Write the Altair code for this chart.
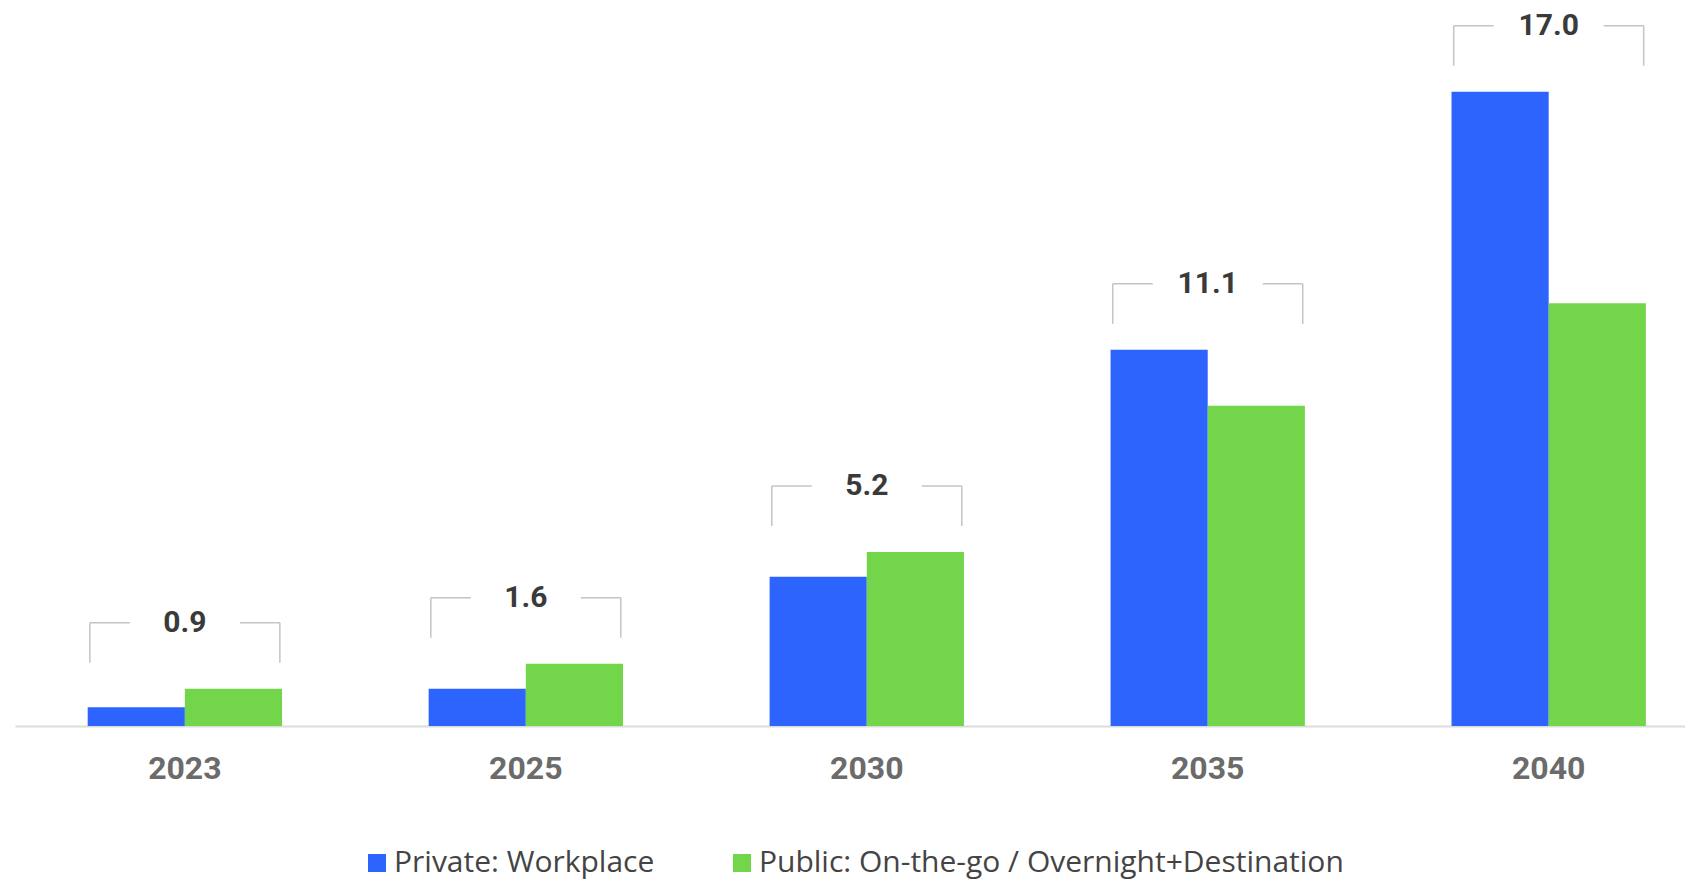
import altair as alt
import pandas as pd
import numpy as np

years = ["2023", "2025", "2030", "2035", "2040"]
private_workplace = [0.3, 0.6, 2.4, 6.05, 10.2]
public_charging = [0.6, 1.0, 2.8, 5.15, 6.8]
totals = [0.9, 1.6, 5.2, 11.1, 17.0]
series_names = ["Private: Workplace", "Public: On-the-go / Overnight+Destination"]
colors = ["#2E64FE", "#72D54A"]

bars = pd.DataFrame({
    "year": years * 2,
    "series": [series_names[0]] * len(years) + [series_names[1]] * len(years),
    "value": private_workplace + public_charging,
})
brackets = pd.DataFrame({
    "year": years,
    "top": np.maximum(private_workplace, public_charging),
    "label": [f"{t:.1f}" for t in totals],
})

FONT = "Roboto"
LEGEND_FONT = "Open Sans"
x_scale = alt.Scale(domain=years, paddingInner=0.43, paddingOuter=0.164, align=0.65)
y_scale = alt.Scale(domain=[0, 11], nice=False)

x_axis = alt.X(
    "year:N", sort=years, scale=x_scale, title=None,
    axis=alt.Axis(labelFontSize=32, labelFontWeight="bold", labelColor="#6b6b6b",
                  labelFont=FONT, labelPadding=27, ticks=False, domainColor="#dcdcdc",
                  domainWidth=2, labelAngle=0, grid=False),
)
x_plain = alt.X("year:N", sort=years, title=None)
y_top = alt.Y("top:Q", scale=y_scale, axis=None)

bar = alt.Chart(bars).mark_bar().encode(
    x=x_axis,
    xOffset=alt.XOffset("series:N", sort=series_names,
                        scale=alt.Scale(paddingInner=0, paddingOuter=0)),
    y=alt.Y("value:Q", scale=y_scale, axis=None),
    color=alt.Color(
        "series:N", sort=series_names,
        scale=alt.Scale(domain=series_names, range=colors),
        legend=alt.Legend(title=None, orient="none", legendX=347, legendY=806,
                          direction="horizontal", symbolType="square", symbolSize=324,
                          symbolStrokeWidth=0, labelFontSize=30, labelFont=LEGEND_FONT,
                          labelColor="#444444", labelLimit=1000, labelOffset=2,
                          columnPadding=72, padding=0),
    ),
)

RC = "#c4c4c4"
SW = 1.5
HALF = 95
GAP = 55
UP = -66
LOW = -26

left_h = alt.Chart(brackets).mark_rule(color=RC, strokeWidth=SW, xOffset=-HALF, x2Offset=-GAP, yOffset=UP).encode(
    x=x_plain, x2="year:N", y=y_top)
right_h = alt.Chart(brackets).mark_rule(color=RC, strokeWidth=SW, xOffset=GAP, x2Offset=HALF, yOffset=UP).encode(
    x=x_plain, x2="year:N", y=y_top)
left_v = alt.Chart(brackets).mark_rule(color=RC, strokeWidth=SW, xOffset=-HALF, yOffset=UP, y2Offset=LOW).encode(
    x=x_plain, y=y_top, y2="top:Q")
right_v = alt.Chart(brackets).mark_rule(color=RC, strokeWidth=SW, xOffset=HALF, yOffset=UP, y2Offset=LOW).encode(
    x=x_plain, y=y_top, y2="top:Q")

labels = alt.Chart(brackets).mark_text(font=FONT, fontWeight="bold", fontSize=30, color="#3a3a3a",
                                       baseline="middle", align="center", yOffset=UP).encode(
    x=x_plain, y=y_top, text="label:N")

chart = alt.layer(bar, left_h, right_h, left_v, right_v, labels).properties(
    width=1670, height=684,
    padding={"left": 7, "top": 2, "right": 0, "bottom": 8},
).configure_view(strokeWidth=0)

chart.save("out.html", embed_options={"renderer": "svg", "actions": False})
